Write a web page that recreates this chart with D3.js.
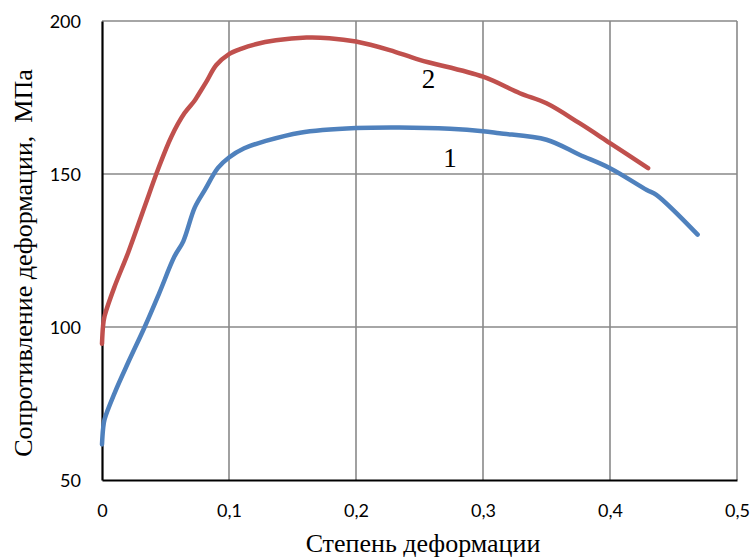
<!DOCTYPE html>
<html>
<head>
<meta charset="utf-8">
<script src="https://cdn.jsdelivr.net/npm/d3@7/dist/d3.min.js"></script>
<style>
  html, body { margin: 0; padding: 0; background: #fff; }
  svg { display: block; }
</style>
</head>
<body>
<svg id="chart" width="752" height="559"></svg>
<script>
// ---- data ----
const xTicks = [0, 0.1, 0.2, 0.3, 0.4, 0.5];
const yTicks = [50, 100, 150, 200];

// curve 1 (blue)
const strain1 = [0, 0.0008, 0.002, 0.01, 0.0205, 0.0336, 0.045, 0.057, 0.064, 0.073, 0.081, 0.0913, 0.1, 0.112, 0.129, 0.156, 0.2, 0.234, 0.274, 0.3, 0.313, 0.35, 0.376, 0.4, 0.429, 0.4365, 0.469];
const stress1 = [61.6, 66.5, 69.8, 78.5, 88.3, 100.0, 111.0, 123.0, 128.0, 139.0, 144.8, 152.0, 155.4, 158.4, 160.8, 163.5, 165.0, 165.2, 164.8, 164.0, 163.3, 161.2, 156.3, 151.9, 144.8, 143.2, 130.2];

// curve 2 (red)
const strain2 = [0, 0.0008, 0.002, 0.01, 0.0205, 0.0336, 0.044, 0.0546, 0.065, 0.073, 0.076, 0.082, 0.09, 0.1, 0.11, 0.12, 0.137, 0.161, 0.179, 0.2, 0.2265, 0.25, 0.3, 0.329, 0.35, 0.376, 0.4, 0.43];
const stress2 = [94.5, 100.2, 103.5, 113.3, 124.2, 139.4, 151.4, 162.2, 169.9, 174.0, 176.0, 180.0, 185.6, 189.2, 191.0, 192.3, 193.7, 194.6, 194.4, 193.3, 190.5, 187.3, 181.8, 176.4, 173.1, 166.6, 160.1, 151.9];

const curveLabels = ["1", "2"];
const labelPos = [[0.274, 152.3], [0.257, 178.1]];

const xTitle = "Степень деформации";
const yTitle = "Сопротивление деформации,  МПа";

// ---- drawing ----
const svg = d3.select("#chart");
const L = 102, R = 737, T = 21, B = 480;

const x = d3.scaleLinear().domain([0, 0.5]).range([L, R]);
const y = d3.scaleLinear().domain([50, 200]).range([B, T]);

const fmt = d => String(d).replace(".", ",");

// gridlines
const grid = svg.append("g");
grid.selectAll("line.v").data(xTicks.filter(d => d > 0)).join("line")
  .attr("x1", d => x(d)).attr("x2", d => x(d))
  .attr("y1", T).attr("y2", B)
  .attr("stroke", "#898989").attr("stroke-width", 1.6);
grid.selectAll("line.h").data(yTicks.filter(d => d > 50)).join("line")
  .attr("x1", L).attr("x2", R)
  .attr("y1", d => y(d)).attr("y2", d => y(d))
  .attr("stroke", "#898989").attr("stroke-width", 1.6);

// axes
const xAxis = svg.append("g").attr("transform", `translate(0,${B})`)
  .call(d3.axisBottom(x).tickValues(xTicks).tickFormat(fmt).tickSize(0));
xAxis.select(".domain").attr("stroke", "#000").attr("stroke-width", 2.2);
xAxis.selectAll("text").attr("y", 37).attr("dy", 0)
  .attr("font-family", "Lato, 'Open Sans', sans-serif").attr("font-size", 18).attr("fill", "#000");

const yAxis = svg.append("g").attr("transform", `translate(${L},0)`)
  .call(d3.axisLeft(y).tickValues(yTicks).tickFormat(fmt).tickSize(0));
yAxis.select(".domain").attr("stroke", "#000").attr("stroke-width", 2.2);
yAxis.selectAll("text").attr("x", -21).attr("dy", "0.36em")
  .attr("font-family", "Lato, 'Open Sans', sans-serif").attr("font-size", 18).attr("fill", "#000");

// lines
const line = d3.line().x(d => x(d[0])).y(d => y(d[1])).curve(d3.curveCatmullRom.alpha(0.5));
const series = [
  { pts: d3.zip(strain1, stress1), color: "#4F81BD" },
  { pts: d3.zip(strain2, stress2), color: "#C0504D" }
];
svg.append("g").selectAll("path").data(series).join("path")
  .attr("d", d => line(d.pts))
  .attr("fill", "none")
  .attr("stroke", d => d.color)
  .attr("stroke-width", 4.5)
  .attr("stroke-linecap", "round")
  .attr("stroke-linejoin", "round");

// curve labels
svg.append("g").selectAll("text").data(curveLabels).join("text")
  .attr("x", (d, i) => x(labelPos[i][0]))
  .attr("y", (d, i) => y(labelPos[i][1]))
  .attr("text-anchor", "middle")
  .attr("font-family", "'Liberation Serif', 'Times New Roman', serif")
  .attr("font-size", 27)
  .text(d => d);

// titles
svg.append("text")
  .attr("x", 423).attr("y", 552)
  .attr("text-anchor", "middle")
  .attr("font-family", "'Liberation Serif', 'Times New Roman', serif")
  .attr("font-size", 26)
  .text(xTitle);

svg.append("text")
  .attr("transform", "translate(32,263) rotate(-90)")
  .attr("text-anchor", "middle")
  .attr("font-family", "'Liberation Serif', 'Times New Roman', serif")
  .attr("font-size", 26)
  .attr("xml:space", "preserve")
  .style("white-space", "pre")
  .text(yTitle);
</script>
</body>
</html>
